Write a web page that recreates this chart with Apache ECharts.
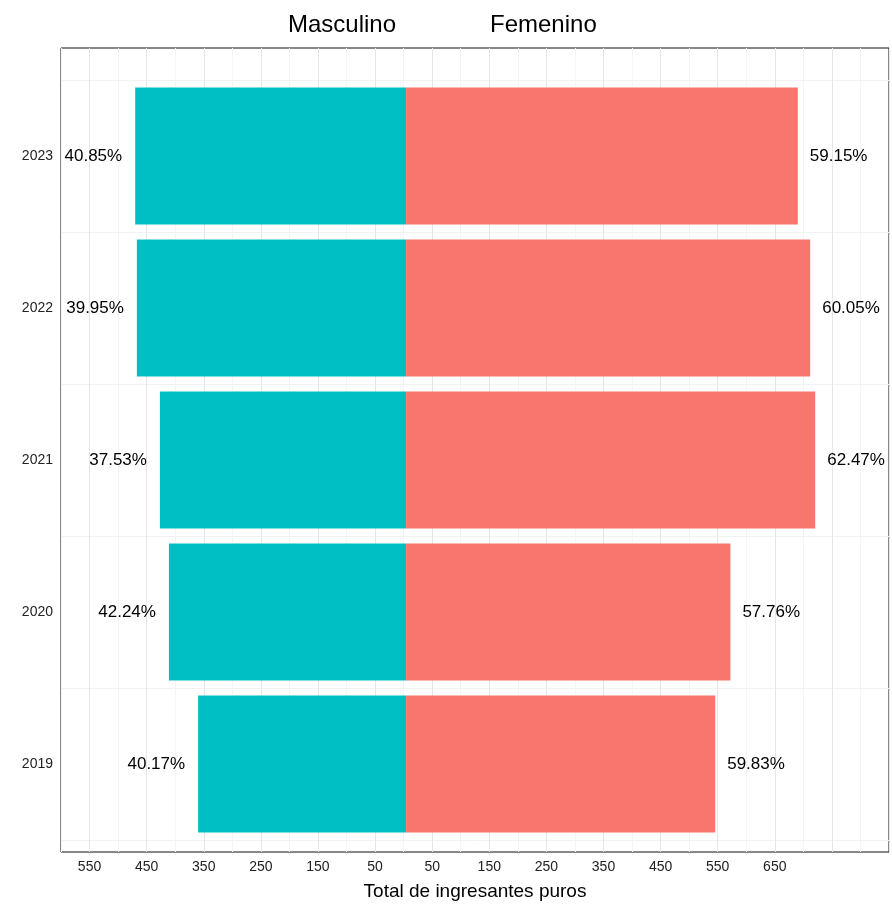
<!DOCTYPE html><html><head><meta charset="utf-8"><script src="https://cdn.jsdelivr.net/npm/echarts@6/dist/echarts.min.js"></script></head><body style="margin:0"><div id="c" style="width:892px;height:920px"></div><script>
const years=['2019','2020','2021','2022','2023'];
const masc=[370,422,438,479,482];
const fem=[550,577,728,719,697];
const mascPct=['40.17%','42.24%','37.53%','39.95%','40.85%'];
const femPct=['59.83%','57.76%','62.47%','60.05%','59.15%'];
const ch=echarts.init(document.getElementById('c'));
const lab={color:'#000',fontSize:17,fontFamily:'Liberation Sans'};
ch.setOption({animation:false,
grid:[{left:61,right:2,top:48,bottom:68,show:true,borderColor:'#111',borderWidth:1,z:0},
{left:61,right:2,top:80,bottom:80}],
graphic:[{type:'text',left:288,top:13,style:{text:'Masculino',fontSize:24,fontFamily:'Liberation Sans',fill:'#000'}},
{type:'text',left:490,top:13,style:{text:'Femenino',fontSize:24,fontFamily:'Liberation Sans',fill:'#000'}}],
xAxis:[{gridIndex:0,type:'value',min:-600,max:850,interval:50,name:'Total de ingresantes puros',nameLocation:'middle',nameGap:30,nameTextStyle:{fontSize:19,color:'#000',fontFamily:'Liberation Sans'},
axisLine:{show:false},axisTick:{show:false},
axisLabel:{color:'#222',fontSize:14,fontFamily:'Liberation Sans',formatter:v=>(Math.abs(v)%100===50&&v<=650)?String(Math.abs(v)):''},
splitLine:{lineStyle:{color:['#f4f4f4','#e6e6e6']}}},
{gridIndex:1,type:'value',min:-614,max:861,show:false,splitLine:{show:false}}],
yAxis:[{gridIndex:0,type:'value',min:0,max:1,show:false,splitLine:{show:false}},
{gridIndex:1,type:'category',data:years,axisLine:{show:false},axisTick:{alignWithLabel:true,length:5,lineStyle:{color:'#333'}},
axisLabel:{color:'#222',fontSize:14,fontFamily:'Liberation Sans'},splitLine:{show:true,lineStyle:{color:'#f2f2f2'}}}],
series:[
{type:'bar',xAxisIndex:1,yAxisIndex:1,stack:'s',barWidth:137,data:masc.map(v=>-v),itemStyle:{color:'#00BFC4'},
label:{show:true,position:'left',distance:13,...lab,formatter:p=>mascPct[p.dataIndex]}},
{type:'bar',xAxisIndex:1,yAxisIndex:1,stack:'s',barWidth:137,data:fem,itemStyle:{color:'#F8766D'},
label:{show:true,position:'right',distance:12,...lab,formatter:p=>femPct[p.dataIndex]}}]});
</script></body></html>
